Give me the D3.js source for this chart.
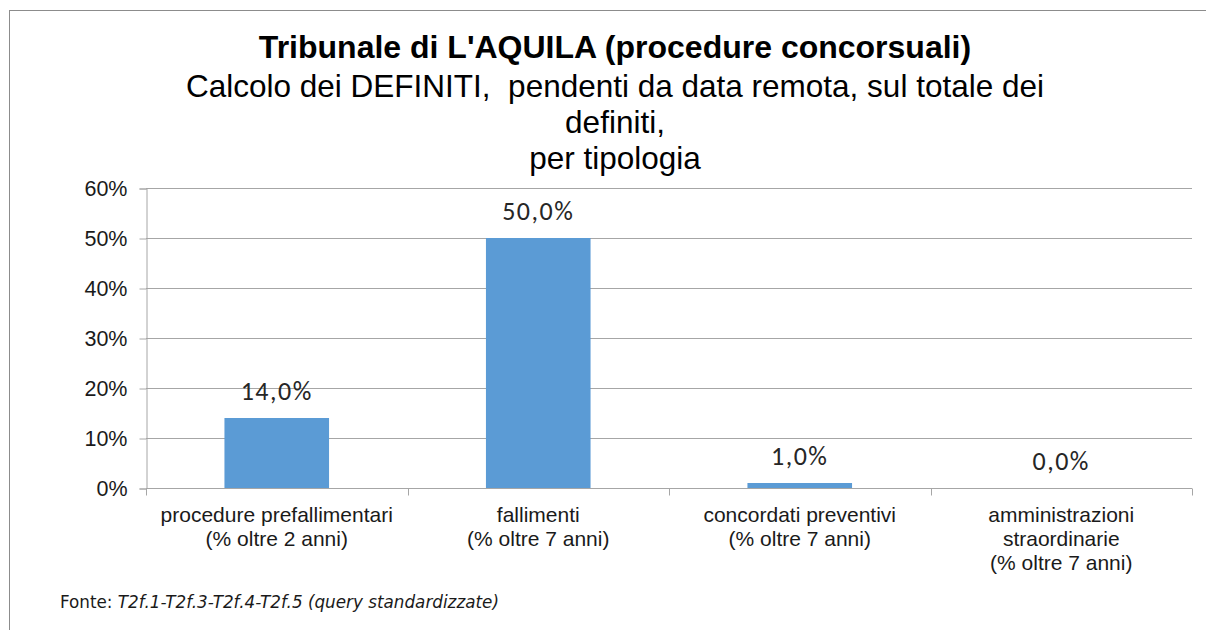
<!DOCTYPE html>
<html>
<head>
<meta charset="utf-8">
<script src="https://cdn.jsdelivr.net/npm/d3@7"></script>
<style>
  body { margin: 0; background: #fff; }
  svg { display: block; font-family: "Liberation Sans", Arial, sans-serif; }
  text { white-space: pre; }
</style>
</head>
<body>
<script>
const categories = [
  "procedure prefallimentari\n(% oltre 2 anni)",
  "fallimenti\n(% oltre 7 anni)",
  "concordati preventivi\n(% oltre 7 anni)",
  "amministrazioni\nstraordinarie\n(% oltre 7 anni)"
];
const values = [0.14, 0.50, 0.01, 0.0];
const yTicks = [0, 0.1, 0.2, 0.3, 0.4, 0.5, 0.6];
const title = "Tribunale di L'AQUILA (procedure concorsuali)";
const subtitle = ["Calcolo dei DEFINITI,  pendenti da data remota, sul totale dei", "definiti,", "per tipologia"];

const width = 1206, height = 630;
const margin = {top: 188, right: 14, bottom: 142, left: 146};

const it = d3.formatLocale({decimal: ",", thousands: ".", grouping: [3], currency: ["", "€"]});
const fmtLabel = it.format(".1%");
const fmtTick = it.format(".0%");

const svg = d3.select("body").append("svg")
  .attr("width", width).attr("height", height);

// frame
svg.append("rect")
  .attr("x", 9.5).attr("y", 10.5)
  .attr("width", 1400).attr("height", 800)
  .attr("fill", "none").attr("stroke", "#8c8c8c");

const x = d3.scaleBand()
  .domain(categories)
  .range([margin.left, width - margin.right])
  .paddingInner(0.6).paddingOuter(0.3);

const y = d3.scaleLinear()
  .domain([0, 0.6])
  .range([height - margin.bottom, margin.top]);

// gridlines
svg.append("g")
  .selectAll("line")
  .data(yTicks)
  .join("line")
  .attr("x1", margin.left).attr("x2", width - margin.right)
  .attr("y1", d => Math.round(y(d)) + 0.5).attr("y2", d => Math.round(y(d)) + 0.5)
  .attr("stroke", "#a6a6a6");

// y axis
const yAxis = svg.append("g")
  .attr("transform", `translate(${margin.left + 0.5},0.5)`)
  .call(d3.axisLeft(y).tickValues(yTicks).tickFormat(fmtTick).tickSize(7).tickPadding(12));
yAxis.select(".domain").attr("stroke", "#a6a6a6");
yAxis.selectAll(".tick line").attr("stroke", "#a6a6a6");
yAxis.selectAll(".tick text")
  .attr("font-family", "Liberation Sans, Arial, sans-serif")
  .attr("font-size", 21.5).attr("fill", "#1a1a1a");

// bars
svg.append("g")
  .selectAll("rect")
  .data(values)
  .join("rect")
  .attr("x", (d, i) => x(categories[i]))
  .attr("y", d => y(d))
  .attr("width", x.bandwidth())
  .attr("height", d => y(0) - y(d))
  .attr("fill", "#5b9bd5");

// x axis line and ticks at category boundaries
const y0 = Math.round(y(0)) + 0.5;
svg.append("line")
  .attr("x1", margin.left).attr("x2", width - margin.right)
  .attr("y1", y0).attr("y2", y0)
  .attr("stroke", "#a6a6a6");
const bounds = categories.map(c => x(c) - x.step() * x.paddingOuter()).concat([width - margin.right]);
svg.append("g")
  .selectAll("line")
  .data(bounds)
  .join("line")
  .attr("x1", d => Math.round(d) + 0.5).attr("x2", d => Math.round(d) + 0.5)
  .attr("y1", y0).attr("y2", y0 + 7)
  .attr("stroke", "#a6a6a6");

// category labels
svg.append("g")
  .selectAll("text")
  .data(categories)
  .join("text")
  .attr("x", d => x(d) + x.bandwidth() / 2)
  .attr("y", 522)
  .attr("text-anchor", "middle")
  .attr("font-size", 21)
  .attr("fill", "#1a1a1a")
  .each(function(d) {
    const t = d3.select(this);
    d.split("\n").forEach((line, k) => {
      t.append("tspan")
        .attr("x", x(d) + x.bandwidth() / 2)
        .attr("dy", k === 0 ? 0 : 24)
        .text(line);
    });
  });

// value labels
svg.append("g")
  .selectAll("text")
  .data(values)
  .join("text")
  .attr("x", (d, i) => x(categories[i]) + x.bandwidth() / 2)
  .attr("y", d => y(d) - 18)
  .attr("text-anchor", "middle")
  .attr("font-family", "Carlito, Calibri, Lato, sans-serif")
  .attr("font-size", 26)
  .attr("letter-spacing", 1.5)
  .attr("fill", "#262626")
  .text(d => fmtLabel(d));

// title
svg.append("text")
  .attr("x", 615).attr("y", 58)
  .attr("text-anchor", "middle")
  .attr("font-size", 32).attr("font-weight", "bold")
  .attr("fill", "#000")
  .text(title);

svg.append("g")
  .selectAll("text")
  .data(subtitle)
  .join("text")
  .attr("x", 615)
  .attr("y", (d, i) => 97 + i * 36)
  .attr("text-anchor", "middle")
  .attr("font-size", 31.5)
  .attr("fill", "#000")
  .text(d => d);

// source
const src = svg.append("text")
  .attr("x", 60).attr("y", 608)
  .attr("font-family", "DejaVu Sans, Verdana, sans-serif")
  .attr("font-size", 16.8)
  .attr("fill", "#1a1a1a");
src.append("tspan").text("Fonte: ");
src.append("tspan").attr("font-style", "italic").text("T2f.1-T2f.3-T2f.4-T2f.5 (query standardizzate)");
</script>
</body>
</html>
